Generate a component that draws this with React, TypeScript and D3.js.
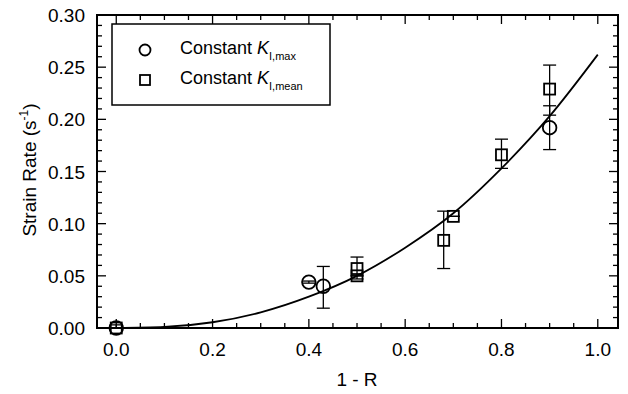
import React from "react";
import * as d3 from "d3";

const maxX = [0.0, 0.4, 0.43, 0.9];
const maxY = [0.0, 0.044, 0.04, 0.192];
const maxLo = [0.0, 0.043, 0.019, 0.171];
const maxHi = [0.0, 0.045, 0.059, 0.213];

const meanX = [0.0, 0.5, 0.5, 0.68, 0.7, 0.8, 0.9];
const meanY = [0.0, 0.05, 0.057, 0.084, 0.107, 0.166, 0.229];
const meanLo = [0.0, 0.05, 0.047, 0.057, 0.107, 0.153, 0.204];
const meanHi = [0.003, 0.05, 0.068, 0.112, 0.107, 0.181, 0.252];

const fitX = [0.0, 0.1, 0.2, 0.3, 0.4, 0.5, 0.6, 0.7, 0.8, 0.9, 1.0];
const fitY = [0.0, 0.001, 0.0055, 0.015, 0.03, 0.05, 0.077, 0.11, 0.153, 0.203, 0.262];

const xTicks = [0.0, 0.2, 0.4, 0.6, 0.8, 1.0];
const yTicks = [0.0, 0.05, 0.1, 0.15, 0.2, 0.25, 0.3];

const W = 628, H = 394;
const L = 97, R = 618, T = 15, B = 328;

export default function App() {
  const x = d3.scaleLinear().domain([-0.04, 1.042]).range([L, R]);
  const y = d3.scaleLinear().domain([0, 0.3]).range([B, T]);
  const xMinor = d3.range(0, 21).map((i) => i * 0.05);
  const yMinor = d3.range(0, 31).map((i) => i * 0.01);
  const line = d3
    .line<number>()
    .x((_, i) => x(fitX[i]))
    .y((d) => y(d))
    .curve(d3.curveMonotoneX);
  const font = "'Liberation Sans', Arial, sans-serif";
  const cap = 6.5;
  const isMajorX = (v: number) => xTicks.some((t) => Math.abs(t - v) < 1e-6);
  const isMajorY = (v: number) => yTicks.some((t) => Math.abs(t - v) < 1e-6);

  const errBar = (xv: number, lo: number, hi: number, key: string) => (
    <g key={key} stroke="#000" strokeWidth={1.3}>
      <line x1={x(xv)} x2={x(xv)} y1={y(lo)} y2={y(hi)} />
      <line x1={x(xv) - cap} x2={x(xv) + cap} y1={y(lo)} y2={y(lo)} />
      <line x1={x(xv) - cap} x2={x(xv) + cap} y1={y(hi)} y2={y(hi)} />
    </g>
  );

  return (
    <svg width={W} height={H} style={{ position: "absolute", left: 0, top: 0, background: "#fff" }}>
      <rect width={W} height={H} fill="#fff" />
      <defs>
        <clipPath id="plotclip">
          <rect x={L} y={T} width={R - L} height={B - T} />
        </clipPath>
      </defs>
      <path d={line(fitY) || ""} fill="none" stroke="#000" strokeWidth={1.8} clipPath="url(#plotclip)" />

      {maxX.map((xv, i) => errBar(xv, maxLo[i], maxHi[i], "me" + i))}
      {meanX.map((xv, i) => errBar(xv, meanLo[i], meanHi[i], "ne" + i))}

      {maxX.map((xv, i) => (
        <circle key={"mc" + i} cx={x(xv)} cy={y(maxY[i])} r={6.8} fill="none" stroke="#000" strokeWidth={1.8} />
      ))}
      {meanX.map((xv, i) => (
        <rect key={"ns" + i} x={x(xv) - 5.5} y={y(meanY[i]) - 5.5} width={11} height={11} fill="none" stroke="#000" strokeWidth={1.8} />
      ))}

      <rect x={L} y={T} width={R - L} height={B - T} fill="none" stroke="#000" strokeWidth={2} />

      {xMinor.map((v, i) => {
        const len = isMajorX(v) ? 9 : 5;
        return (
          <g key={"xt" + i} stroke="#000" strokeWidth={1.3}>
            <line x1={x(v)} x2={x(v)} y1={B} y2={B - len} />
            <line x1={x(v)} x2={x(v)} y1={T} y2={T + len} />
          </g>
        );
      })}
      {yMinor.map((v, i) => {
        const len = isMajorY(v) ? 9 : 5;
        return (
          <g key={"yt" + i} stroke="#000" strokeWidth={1.3}>
            <line x1={L} x2={L + len} y1={y(v)} y2={y(v)} />
            <line x1={R} x2={R - len} y1={y(v)} y2={y(v)} />
          </g>
        );
      })}

      {xTicks.map((v, i) => (
        <text key={"xl" + i} x={x(v)} y={B + 28} textAnchor="middle" fontFamily={font} fontSize={19} fill="#000">
          {v.toFixed(1)}
        </text>
      ))}
      {yTicks.map((v, i) => (
        <text key={"yl" + i} x={L - 12} y={y(v) + 7} textAnchor="end" fontFamily={font} fontSize={19} fill="#000">
          {v.toFixed(2)}
        </text>
      ))}

      <text x={357} y={386} textAnchor="middle" fontFamily={font} fontSize={19} fill="#000">
        1 - R
      </text>
      <text
        transform={`translate(36, 170) rotate(-90)`}
        textAnchor="middle"
        fontFamily={font}
        fontSize={19}
        fill="#000"
      >
        Strain Rate (s
        <tspan fontSize={12} dy={-8}>-1</tspan>
        <tspan dy={8}>)</tspan>
      </text>

      <rect x={112} y={24} width={218} height={81} fill="#fff" stroke="#000" strokeWidth={1.5} />
      <circle cx={145} cy={50} r={5.5} fill="none" stroke="#000" strokeWidth={1.8} />
      <rect x={140} y={75} width={10} height={10} fill="none" stroke="#000" strokeWidth={1.8} />
      <text x={180} y={54} fontFamily={font} fontSize={18} fill="#000">
        Constant <tspan fontStyle="italic">K</tspan>
        <tspan fontSize={11} dy={6}>I,max</tspan>
      </text>
      <text x={180} y={84} fontFamily={font} fontSize={18} fill="#000">
        Constant <tspan fontStyle="italic">K</tspan>
        <tspan fontSize={11} dy={6}>I,mean</tspan>
      </text>
    </svg>
  );
}
